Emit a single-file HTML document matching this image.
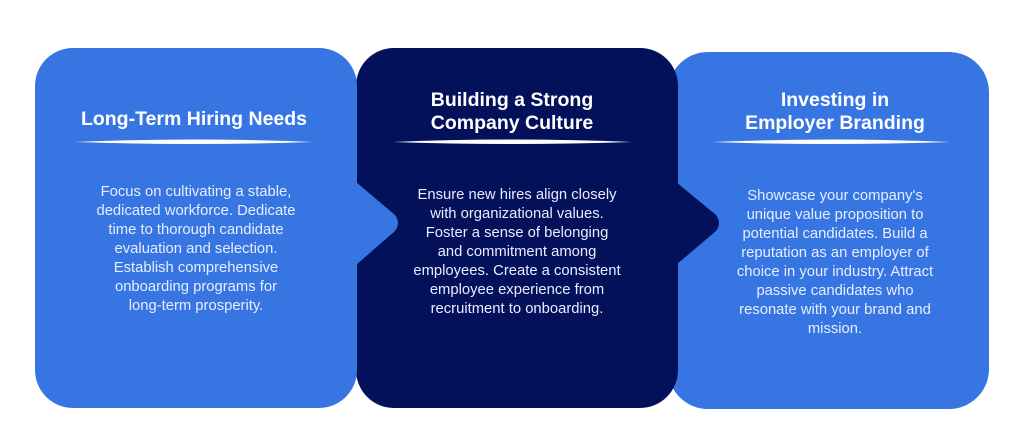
<!DOCTYPE html>
<html><head><meta charset="utf-8"><style>
html,body{margin:0;padding:0;background:#fff;}
svg{display:block;}
.t{font-family:"Liberation Sans",sans-serif;font-weight:bold;font-size:19.5px;fill:#fff;text-anchor:middle;}
.b{font-family:"Liberation Sans",sans-serif;font-size:14.8px;fill:#e8eeff;text-anchor:middle;}
</style></head><body>
<svg width="1024" height="446" viewBox="0 0 1024 446">
<!-- right card -->
<rect x="668" y="52" width="321" height="357" rx="40" fill="#3675e2"/>
<!-- middle card -->
<rect x="356" y="48" width="322" height="360" rx="38" fill="#03105a"/>
<path d="M676 182 L716 215 Q722 223 716 231 L676 265 Z" fill="#03105a"/>
<!-- left card -->
<rect x="35" y="48" width="322" height="360" rx="38" fill="#3675e2"/>
<path d="M356 182 L395 215 Q401 223 395 231 L356 265 Z" fill="#3675e2"/>
<!-- dividers -->
<path d="M75 142 Q194 137 313 142 Q194 146 75 142 Z" fill="#fff"/>
<path d="M393 142 Q512 137 632 142 Q512 146 393 142 Z" fill="#fff"/>
<path d="M712 142 Q832 137 951 142 Q832 146 712 142 Z" fill="#fff"/>
<!-- titles -->
<text class="t" x="194" y="125">Long-Term Hiring Needs</text>
<text class="t" x="512" y="106">Building a Strong</text>
<text class="t" x="512" y="129">Company Culture</text>
<text class="t" x="835" y="106">Investing in</text>
<text class="t" x="835" y="129">Employer Branding</text>
<!-- bodies -->
<g class="b">
<text x="196" y="196">Focus on cultivating a stable,</text>
<text x="196" y="215">dedicated workforce. Dedicate</text>
<text x="196" y="234">time to thorough candidate</text>
<text x="196" y="253">evaluation and selection.</text>
<text x="196" y="272">Establish comprehensive</text>
<text x="196" y="291">onboarding programs for</text>
<text x="196" y="310">long-term prosperity.</text>
</g>
<g class="b">
<text x="517" y="199">Ensure new hires align closely</text>
<text x="517" y="218">with organizational values.</text>
<text x="517" y="237">Foster a sense of belonging</text>
<text x="517" y="256">and commitment among</text>
<text x="517" y="275">employees. Create a consistent</text>
<text x="517" y="294">employee experience from</text>
<text x="517" y="313">recruitment to onboarding.</text>
</g>
<g class="b">
<text x="835" y="200">Showcase your company's</text>
<text x="835" y="219">unique value proposition to</text>
<text x="835" y="238">potential candidates. Build a</text>
<text x="835" y="257">reputation as an employer of</text>
<text x="835" y="276">choice in your industry. Attract</text>
<text x="835" y="295">passive candidates who</text>
<text x="835" y="314">resonate with your brand and</text>
<text x="835" y="333">mission.</text>
</g>
</svg>
</body></html>
